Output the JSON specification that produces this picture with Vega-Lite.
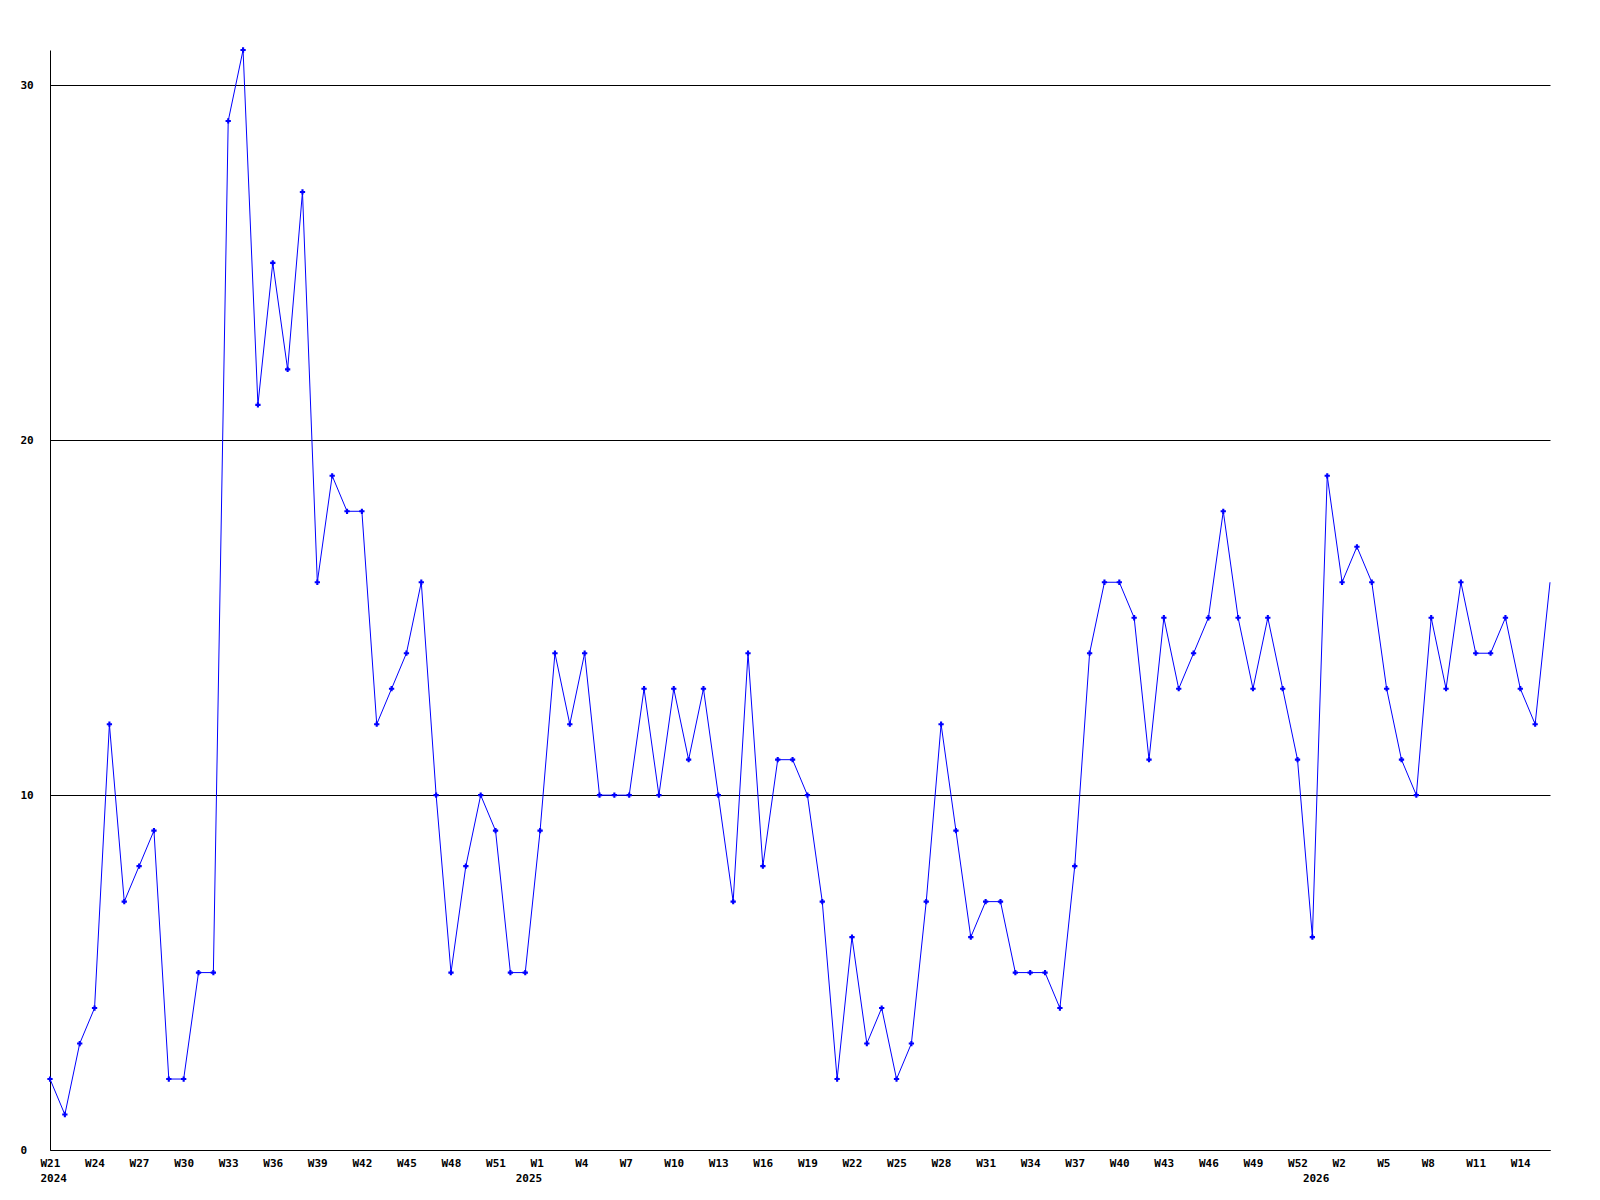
{
  "$schema": "https://vega.github.io/schema/vega-lite/v6.json",
  "width": 1500,
  "height": 1100,
  "autosize": {"type": "none"},
  "padding": {"left": 50, "top": 50, "right": 50, "bottom": 50},
  "background": "white",
  "config": {
    "view": {"stroke": null},
    "axis": {
      "labelFont": "DejaVu Sans Mono",
      "labelFontWeight": "bold",
      "labelFontSize": 11,
      "labelColor": "black",
      "domainColor": "black",
      "domainWidth": 1,
      "ticks": false,
      "title": null
    }
  },
  "data": {
    "values": [
      {"week": "2024-W21", "count": 2}, {"week": "2024-W22", "count": 1}, {"week": "2024-W23", "count": 3}, {"week": "2024-W24", "count": 4},
      {"week": "2024-W25", "count": 12}, {"week": "2024-W26", "count": 7}, {"week": "2024-W27", "count": 8}, {"week": "2024-W28", "count": 9},
      {"week": "2024-W29", "count": 2}, {"week": "2024-W30", "count": 2}, {"week": "2024-W31", "count": 5}, {"week": "2024-W32", "count": 5},
      {"week": "2024-W33", "count": 29}, {"week": "2024-W34", "count": 31}, {"week": "2024-W35", "count": 21}, {"week": "2024-W36", "count": 25},
      {"week": "2024-W37", "count": 22}, {"week": "2024-W38", "count": 27}, {"week": "2024-W39", "count": 16}, {"week": "2024-W40", "count": 19},
      {"week": "2024-W41", "count": 18}, {"week": "2024-W42", "count": 18}, {"week": "2024-W43", "count": 12}, {"week": "2024-W44", "count": 13},
      {"week": "2024-W45", "count": 14}, {"week": "2024-W46", "count": 16}, {"week": "2024-W47", "count": 10}, {"week": "2024-W48", "count": 5},
      {"week": "2024-W49", "count": 8}, {"week": "2024-W50", "count": 10}, {"week": "2024-W51", "count": 9}, {"week": "2024-W52", "count": 5},
      {"week": "2025-W00", "count": 5}, {"week": "2025-W01", "count": 9}, {"week": "2025-W02", "count": 14}, {"week": "2025-W03", "count": 12},
      {"week": "2025-W04", "count": 14}, {"week": "2025-W05", "count": 10}, {"week": "2025-W06", "count": 10}, {"week": "2025-W07", "count": 10},
      {"week": "2025-W08", "count": 13}, {"week": "2025-W09", "count": 10}, {"week": "2025-W10", "count": 13}, {"week": "2025-W11", "count": 11},
      {"week": "2025-W12", "count": 13}, {"week": "2025-W13", "count": 10}, {"week": "2025-W14", "count": 7}, {"week": "2025-W15", "count": 14},
      {"week": "2025-W16", "count": 8}, {"week": "2025-W17", "count": 11}, {"week": "2025-W18", "count": 11}, {"week": "2025-W19", "count": 10},
      {"week": "2025-W20", "count": 7}, {"week": "2025-W21", "count": 2}, {"week": "2025-W22", "count": 6}, {"week": "2025-W23", "count": 3},
      {"week": "2025-W24", "count": 4}, {"week": "2025-W25", "count": 2}, {"week": "2025-W26", "count": 3}, {"week": "2025-W27", "count": 7},
      {"week": "2025-W28", "count": 12}, {"week": "2025-W29", "count": 9}, {"week": "2025-W30", "count": 6}, {"week": "2025-W31", "count": 7},
      {"week": "2025-W32", "count": 7}, {"week": "2025-W33", "count": 5}, {"week": "2025-W34", "count": 5}, {"week": "2025-W35", "count": 5},
      {"week": "2025-W36", "count": 4}, {"week": "2025-W37", "count": 8}, {"week": "2025-W38", "count": 14}, {"week": "2025-W39", "count": 16},
      {"week": "2025-W40", "count": 16}, {"week": "2025-W41", "count": 15}, {"week": "2025-W42", "count": 11}, {"week": "2025-W43", "count": 15},
      {"week": "2025-W44", "count": 13}, {"week": "2025-W45", "count": 14}, {"week": "2025-W46", "count": 15}, {"week": "2025-W47", "count": 18},
      {"week": "2025-W48", "count": 15}, {"week": "2025-W49", "count": 13}, {"week": "2025-W50", "count": 15}, {"week": "2025-W51", "count": 13},
      {"week": "2025-W52", "count": 11}, {"week": "2026-W00", "count": 6}, {"week": "2026-W01", "count": 19}, {"week": "2026-W02", "count": 16},
      {"week": "2026-W03", "count": 17}, {"week": "2026-W04", "count": 16}, {"week": "2026-W05", "count": 13}, {"week": "2026-W06", "count": 11},
      {"week": "2026-W07", "count": 10}, {"week": "2026-W08", "count": 15}, {"week": "2026-W09", "count": 13}, {"week": "2026-W10", "count": 16},
      {"week": "2026-W11", "count": 14}, {"week": "2026-W12", "count": 14}, {"week": "2026-W13", "count": 15}, {"week": "2026-W14", "count": 13},
      {"week": "2026-W15", "count": 12}, {"week": "2026-W16", "count": 16}
    ]
  },
  "encoding": {
    "x": {
      "field": "week",
      "type": "ordinal",
      "sort": null,
      "scale": {"type": "point", "padding": 0},
      "axis": {
        "values": ["2024-W21", "2024-W24", "2024-W27", "2024-W30", "2024-W33", "2024-W36", "2024-W39", "2024-W42", "2024-W45", "2024-W48", "2024-W51",
                   "2025-W00", "2025-W01", "2025-W04", "2025-W07", "2025-W10", "2025-W13", "2025-W16", "2025-W19", "2025-W22", "2025-W25", "2025-W28",
                   "2025-W31", "2025-W34", "2025-W37", "2025-W40", "2025-W43", "2025-W46", "2025-W49", "2025-W52",
                   "2026-W00", "2026-W02", "2026-W05", "2026-W08", "2026-W11", "2026-W14"],
        "labelExpr": "slice(datum.value, 6) == '00' ? ['', slice(datum.value, 0, 4)] : (datum.value == '2024-W21' ? ['W21', '2024'] : 'W' + toNumber(slice(datum.value, 6)))",
        "labelAlign": "left",
        "labelOffset": -10,
        "labelPadding": 7,
        "labelLineHeight": 15,
        "labelOverlap": false,
        "labelBound": false,
        "labelFlush": false,
        "labelAngle": 0,
        "grid": false
      }
    },
    "y": {
      "field": "count",
      "type": "quantitative",
      "scale": {"domain": [0, 31], "nice": false, "zero": true},
      "axis": {
        "values": [0, 10, 20, 30],
        "grid": true,
        "gridColor": "black",
        "gridOpacity": 1,
        "gridWidth": 1,
        "labelAlign": "left",
        "labelBaseline": "middle",
        "labelPadding": 30
      }
    }
  },
  "layer": [
    {"mark": {"type": "line", "color": "#0000ff", "strokeWidth": 1}},
    {
      "transform": [{"filter": "datum.week != '2026-W16'"}],
      "mark": {"type": "point", "shape": "cross", "filled": true, "size": 28, "color": "#0000ff", "opacity": 1}
    }
  ]
}
